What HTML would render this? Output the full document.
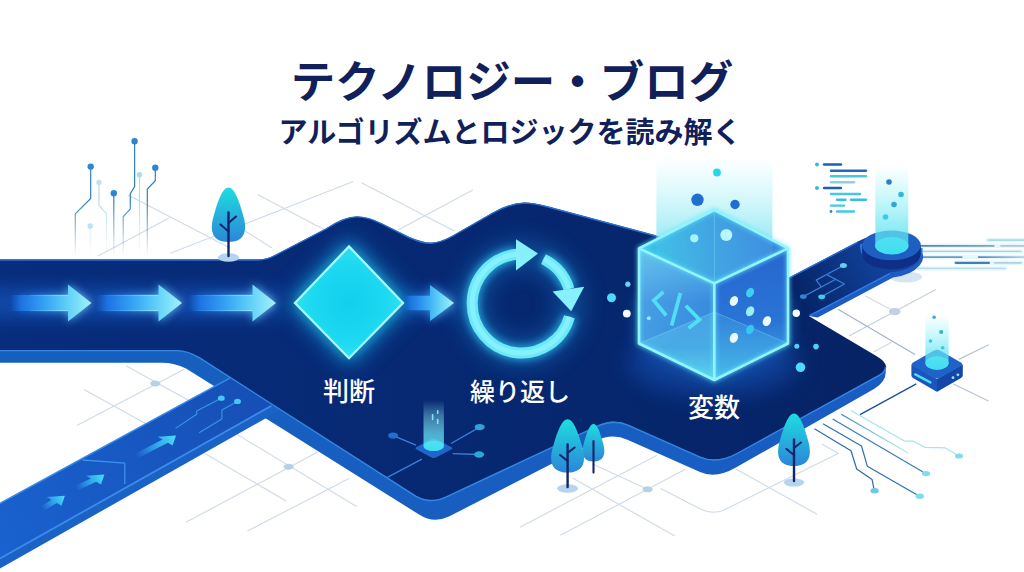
<!DOCTYPE html>
<html lang="ja">
<head>
<meta charset="utf-8">
<title>テクノロジー・ブログ</title>
<style>
html,body{margin:0;padding:0;background:#fff;}
body{width:1024px;height:572px;overflow:hidden;font-family:"Liberation Sans",sans-serif;}
svg{display:block;}
</style>
</head>
<body>
<svg width="1024" height="572" viewBox="0 0 1024 572">
<defs>
  <linearGradient id="gSurf" x1="0" y1="0" x2="1024" y2="0" gradientUnits="userSpaceOnUse">
    <stop offset="0" stop-color="#082d7d"/>
    <stop offset="0.4" stop-color="#072973"/>
    <stop offset="0.65" stop-color="#06266c"/>
    <stop offset="1" stop-color="#062161"/>
  </linearGradient>
  <linearGradient id="gSide" x1="0" y1="0" x2="1024" y2="0" gradientUnits="userSpaceOnUse">
    <stop offset="0" stop-color="#1560bf"/>
    <stop offset="1" stop-color="#1a5cc2"/>
  </linearGradient>
  <filter id="blur2" x="-20%" y="-20%" width="140%" height="140%"><feGaussianBlur stdDeviation="2"/></filter>
  <filter id="blur4" x="-30%" y="-30%" width="160%" height="160%"><feGaussianBlur stdDeviation="4"/></filter>
  <filter id="blur8" x="-40%" y="-40%" width="180%" height="180%"><feGaussianBlur stdDeviation="8"/></filter>

  <linearGradient id="gRoad2" x1="0" y1="560" x2="260" y2="400" gradientUnits="userSpaceOnUse">
    <stop offset="0" stop-color="#1a62cf"/>
    <stop offset="1" stop-color="#164fb6"/>
  </linearGradient>
  <linearGradient id="gArrow" x1="0" y1="0" x2="1" y2="0">
    <stop offset="0" stop-color="#1a6fe0" stop-opacity="0"/>
    <stop offset="0.14" stop-color="#1f7aea" stop-opacity="0.8"/>
    <stop offset="0.45" stop-color="#38a6f5" stop-opacity="1"/>
    <stop offset="0.72" stop-color="#62d2f8" stop-opacity="1"/>
    <stop offset="1" stop-color="#a4f1fb" stop-opacity="1"/>
  </linearGradient>
  <linearGradient id="gArrowS" x1="0" y1="0" x2="1" y2="0">
    <stop offset="0" stop-color="#3fb0ff" stop-opacity="0"/>
    <stop offset="0.5" stop-color="#35b8f5" stop-opacity="0.8"/>
    <stop offset="1" stop-color="#45dcf5" stop-opacity="1"/>
  </linearGradient>
  <radialGradient id="gDia" cx="0.5" cy="0.5" r="0.55">
    <stop offset="0" stop-color="#12d0ec"/>
    <stop offset="0.6" stop-color="#1cd8f0"/>
    <stop offset="1" stop-color="#34e2f5"/>
  </radialGradient>
  <linearGradient id="gBeam" x1="0" y1="0" x2="0" y2="1">
    <stop offset="0" stop-color="#9af2f8" stop-opacity="0"/>
    <stop offset="0.3" stop-color="#8df0f7" stop-opacity="0.38"/>
    <stop offset="0.65" stop-color="#6ee6f4" stop-opacity="0.7"/>
    <stop offset="1" stop-color="#45dcf0" stop-opacity="0.88"/>
  </linearGradient>
  <linearGradient id="gBeamC" x1="0" y1="0" x2="0" y2="1">
    <stop offset="0" stop-color="#9af2f8" stop-opacity="0"/>
    <stop offset="0.3" stop-color="#95eef6" stop-opacity="0.3"/>
    <stop offset="0.7" stop-color="#74e2f2" stop-opacity="0.6"/>
    <stop offset="1" stop-color="#58d8f0" stop-opacity="0.75"/>
  </linearGradient>
  <linearGradient id="gTree" x1="0" y1="0" x2="0" y2="1">
    <stop offset="0" stop-color="#1fdde0"/>
    <stop offset="1" stop-color="#2b86d8"/>
  </linearGradient>
  <linearGradient id="gCubeTop" x1="645" y1="255" x2="780" y2="235" gradientUnits="userSpaceOnUse">
    <stop offset="0" stop-color="#38c2e4"/>
    <stop offset="0.45" stop-color="#3aa0e2"/>
    <stop offset="1" stop-color="#3680dc"/>
  </linearGradient>
  <linearGradient id="gCubeL" x1="0" y1="250" x2="0" y2="380" gradientUnits="userSpaceOnUse">
    <stop offset="0" stop-color="#49a8e6"/>
    <stop offset="0.4" stop-color="#3788de"/>
    <stop offset="0.75" stop-color="#3a98e2"/>
    <stop offset="1" stop-color="#4fd0ee"/>
  </linearGradient>
  <linearGradient id="gCubeR" x1="0" y1="250" x2="0" y2="380" gradientUnits="userSpaceOnUse">
    <stop offset="0" stop-color="#2766cf"/>
    <stop offset="0.55" stop-color="#2a74d6"/>
    <stop offset="1" stop-color="#3fb4e6"/>
  </linearGradient>
  <linearGradient id="gFadeDown" x1="0" y1="140" x2="0" y2="252" gradientUnits="userSpaceOnUse">
    <stop offset="0" stop-color="#fff" stop-opacity="0"/>
    <stop offset="0.75" stop-color="#fff" stop-opacity="0"/>
    <stop offset="1" stop-color="#fff" stop-opacity="1"/>
  </linearGradient>
  <linearGradient id="gSpeed" x1="920" y1="0" x2="1024" y2="0" gradientUnits="userSpaceOnUse">
    <stop offset="0" stop-color="#6f9bd0"/>
    <stop offset="1" stop-color="#bfe4f2" stop-opacity="0.3"/>
  </linearGradient>
  <clipPath id="clipTop"><path d="M-10 200 L-10 300 L270 300 L270 260 L660 260 L790 300 L930 262 L930 200 Z"/></clipPath>
  <linearGradient id="gFadeTL" x1="0" y1="200" x2="0" y2="256" gradientUnits="userSpaceOnUse">
    <stop offset="0" stop-color="#fff"/><stop offset="1" stop-color="#000"/>
  </linearGradient>
  <mask id="mFadeTL" maskUnits="userSpaceOnUse" x="60" y="130" width="120" height="140"><rect x="60" y="130" width="120" height="140" fill="url(#gFadeTL)"/></mask>
  <linearGradient id="gTr" x1="841" y1="414" x2="908" y2="453" gradientUnits="userSpaceOnUse">
    <stop offset="0" stop-color="#3a7ab8"/><stop offset="0.5" stop-color="#7fc8dc"/><stop offset="1" stop-color="#b8ecd8"/>
  </linearGradient>
  <linearGradient id="gHL1" x1="20" y1="0" x2="68" y2="0" gradientUnits="userSpaceOnUse"><stop offset="0" stop-color="#bff6ff" stop-opacity="0"/><stop offset="1" stop-color="#c8f8ff" stop-opacity="1"/></linearGradient>
  <linearGradient id="gHL2" x1="100" y1="0" x2="158" y2="0" gradientUnits="userSpaceOnUse"><stop offset="0" stop-color="#bff6ff" stop-opacity="0"/><stop offset="1" stop-color="#c8f8ff" stop-opacity="1"/></linearGradient>
  <linearGradient id="gHL3" x1="192" y1="0" x2="252" y2="0" gradientUnits="userSpaceOnUse"><stop offset="0" stop-color="#bff6ff" stop-opacity="0"/><stop offset="1" stop-color="#c8f8ff" stop-opacity="1"/></linearGradient>
  <filter id="blur12" x="-40%" y="-40%" width="180%" height="180%"><feGaussianBlur stdDeviation="12"/></filter>
  <clipPath id="clipPlat"><use href="#plat"/></clipPath>
  <linearGradient id="gArmOv" x1="800" y1="300" x2="885" y2="255" gradientUnits="userSpaceOnUse"><stop offset="0" stop-color="#1f66d8" stop-opacity="0"/><stop offset="1" stop-color="#1f66d8" stop-opacity="0.5"/></linearGradient>
  <linearGradient id="gSheen" x1="639" y1="250" x2="700" y2="320" gradientUnits="userSpaceOnUse"><stop offset="0" stop-color="#8feaf8" stop-opacity="0.4"/><stop offset="1" stop-color="#8feaf8" stop-opacity="0"/></linearGradient>
  <linearGradient id="gSpeedA" x1="918" y1="0" x2="994" y2="0" gradientUnits="userSpaceOnUse"><stop offset="0" stop-color="#4f84b6"/><stop offset="1" stop-color="#7fa6c8"/></linearGradient>
  <linearGradient id="gSpeedB" x1="978" y1="0" x2="1024" y2="0" gradientUnits="userSpaceOnUse"><stop offset="0" stop-color="#5a88b8"/><stop offset="1" stop-color="#b8d0e2"/></linearGradient>
  <linearGradient id="gA1" x1="135.4" y1="456.5" x2="176.0" y2="435.6" gradientUnits="userSpaceOnUse"><stop offset="0" stop-color="#3fb0ff" stop-opacity="0"/><stop offset="0.5" stop-color="#35b8f5" stop-opacity="0.8"/><stop offset="1" stop-color="#4fe0f8" stop-opacity="1"/></linearGradient>
  <linearGradient id="gA2" x1="75.8" y1="488.3" x2="104.4" y2="474.5" gradientUnits="userSpaceOnUse"><stop offset="0" stop-color="#3fb0ff" stop-opacity="0"/><stop offset="0.5" stop-color="#35b8f5" stop-opacity="0.8"/><stop offset="1" stop-color="#4fe0f8" stop-opacity="1"/></linearGradient>
  <linearGradient id="gA3" x1="42.1" y1="508.5" x2="64.9" y2="495.8" gradientUnits="userSpaceOnUse"><stop offset="0" stop-color="#3fb0ff" stop-opacity="0"/><stop offset="0.5" stop-color="#35b8f5" stop-opacity="0.8"/><stop offset="1" stop-color="#4fe0f8" stop-opacity="1"/></linearGradient>
  <path id="plat" d="M-10 259.5 L258 259.5 Q267 259.5 276 254.5 L326 228.5 Q344 216.4 357 216.4 Q368 216.4 382 223.5 L409 237 Q423 243 431 242.8 Q440 242.5 452 236 L493 212.5 Q510 203 524 202.6 Q534 202.6 548 206.5 L656 235.5 L740 258 L770 285 L790 277 L858 241.6 Q868 236 880 234.5 Q905 232 918 244 Q925 254 918 262 Q908 271 890 272.2 L808.8 316 L875.5 355.4 Q894.4 366.4 880 374.3 L738 452.4 Q716.9 464 700 456.5 L629 425 Q613.4 418 598 425.3 L447 496 Q430 504 416 495.8 L200 357.6 Q188.2 350 176 350 L-10 350 Z"/>
  <path id="outer" d="M-10 300 L-10 362.8 L162 362.8 Q174.4 362.8 186 368.5 L419 514.5 Q433.6 523.8 449 516.5 L597 440.6 Q611.9 432.9 628 440.1 L700 472 Q715.8 479 735 468.1 L874 388.9 Q885.8 382 885.8 372 L885 366 L870 358 L700 400 L300 330 Z"/>
  <path id="armside" d="M808.8 316 L817.7 317.6 L893 277.5 Q912 275 920 265 Q925 259 922 252 L900 250 L808.8 300 Z"/>
</defs>
<rect width="1024" height="572" fill="#ffffff"/>

<!-- GRID -->
<g id="grid" fill="none" stroke="#cfdae8" stroke-width="1.1">
  <!-- top-left -->
  <path d="M98 256 L169 218"/>
  <path d="M128 195 L230 248"/>
  <path d="M170.4 253.2 L353.3 181.5"/>
  <path d="M257.6 194.5 L324.4 229.8"/>
  <path d="M361.5 182.7 L454.3 230.9"/>
  <path d="M398.6 229.8 L472.8 190"/>
  <path d="M242 229 L272 248"/>
  <!-- bottom-left -->
  <path d="M76.9 425.6 L184.2 369.3"/>
  <path d="M84 389.4 L150 426"/>
  <path d="M126.1 365.8 L215 415"/>
  <path d="M185.9 522.3 L317.8 452"/>
  <path d="M247.5 531.1 L349.4 478.3"/>
  <path d="M205.3 453.7 L286 501"/>
  <path d="M236.9 434.4 L356.5 506.5"/>
  <!-- bottom-middle -->
  <path d="M520 527.2 L657 455.2"/>
  <path d="M560.4 535.3 L685.3 469.2"/>
  <path d="M572.7 478 L674.7 536"/>
  <path d="M592 463.8 L647.6 489.3"/>
  <path d="M660.6 488.6 L700 508.8 Q712 515 724 510 L838.2 453.4 L822 444"/>
  <path d="M736.2 469.2 L817.1 514.2"/>
  <!-- right -->
  <path d="M849 336.1 L935.9 289.6" stroke="#c3cfde"/>
  <path d="M864.9 295.7 L894.7 311.6"/>
  <path d="M838 309.2 L915 354.5" stroke="#a3b3ca" stroke-width="1.2"/>
  <path d="M873.4 352 L891.8 342.2"/>
</g>
<g fill="#b9cfe6">
  <ellipse cx="155.3" cy="383.4" rx="5" ry="3"/>
  <ellipse cx="288.6" cy="466.7" rx="5" ry="3"/>
  <ellipse cx="647.6" cy="489.3" rx="5" ry="3"/>
  <ellipse cx="894.7" cy="311.6" rx="5.8" ry="3.6" fill="#c3cfe4"/>
</g>

<!-- PRE-PLATFORM DECOR -->
<ellipse cx="906" cy="277" rx="16" ry="5.5" fill="#d3e2f2" opacity="0.9"/>
<g id="speed" fill="none" stroke-linecap="round">
  <g stroke="#c4f0f8" stroke-width="4.5" opacity="0.45">
    <path d="M921 245.8 L1024 245.8 M921 251.4 L1021 251.4 M921 257.1 L1024 257.1 M956 262.8 L1021 262.8 M918 268.4 L1005 268.4 M988 240.1 L1024 240.1"/>
  </g>
  <g stroke-width="1.7">
    <path d="M988.4 240.1 L1024 240.1" stroke="#a8dce4"/>
    <path d="M918 245.8 L993.8 245.8" stroke="url(#gSpeedA)"/>
    <path d="M1001 245.8 L1024 245.8" stroke="#9fbcd2" opacity="0.8"/>
    <path d="M918 251.4 L1021 251.4" stroke="#b0cce0" stroke-width="1.2"/>
    <path d="M918 257.1 L961.8 257.1" stroke="#6f98c2"/>
    <path d="M978.7 257.1 L1024 257.1" stroke="url(#gSpeedB)"/>
    <path d="M955.7 262.8 L989 262.8" stroke="#4a7cb2" stroke-width="2.2"/>
    <path d="M994.5 262.8 L1021 262.8" stroke="#a8c4da" opacity="0.8"/>
    <path d="M918 268.4 L1005 268.4" stroke="#bcd6e6" stroke-width="1.2"/>
  </g>
</g>
<g id="traces-tl" fill="none" stroke-width="1.2" mask="url(#mFadeTL)">
  <path d="M90.7 166.6 L90.7 198.4 L75.3 213.8 L75.3 256" stroke="#2f7fc4"/>
  <path d="M99 182.4 L99 205.5 L106.5 213.8 L106.5 256" stroke="#b5dcee"/>
  <path d="M113.8 193.2 L113.8 256" stroke="#2f7fc4"/>
  <path d="M134.6 141.3 L134.6 186.6 L130.3 193.7 L130.3 209 L123.2 216.8 L123.2 256" stroke="#2f7fc4"/>
  <path d="M139.5 174.8 L139.5 256" stroke="#b5dcee"/>
  <path d="M155.3 167.8 L155.3 180.7 L147.3 189 L147.3 256" stroke="#2f7fc4"/>
  <path d="M90.2 226 L90.2 256" stroke="#b5dcee"/>
</g>
<g id="traces-tl-dots">
  <circle cx="90.7" cy="166.6" r="3.2" fill="#2f86d0"/>
  <circle cx="99" cy="182.4" r="2.7" fill="#bfe2f0"/>
  <circle cx="113.8" cy="193.2" r="3.2" fill="#2f86d0"/>
  <circle cx="134.6" cy="141.3" r="3.2" fill="#2f86d0"/>
  <circle cx="139.5" cy="174.8" r="2.7" fill="#a8dcf0"/>
  <circle cx="155.3" cy="167.8" r="3.2" fill="#2f86d0"/>
  <circle cx="90.2" cy="226" r="2.7" fill="#bfe2f0"/>
</g>
<g id="traces-br" fill="none" stroke-width="1.2" stroke-linejoin="round">
  <path d="M851 410.4 L904.8 441.2 L913.5 441.2 L925 447.3 L944.8 447.8 L956.3 454.5" stroke="#a5e4ee"/>
  <path d="M841.3 414.2 L907.7 452.7" stroke="url(#gTr)"/>
  <path d="M832.7 419 L923 472" stroke="#3a7ab8"/>
  <path d="M823 423.8 L861.5 446 L867.3 466.2 L917.3 495" stroke="#2f6fb0"/>
  <path d="M814.4 428.7 L851 450.8 L856.7 469 L872.1 479.6 L874 489.2" stroke="#2f6aa8"/>
</g>
<g id="traces-br-dots">
  <ellipse cx="959" cy="456" rx="4" ry="2.6" fill="#7fdcee"/>
  <ellipse cx="926" cy="473.6" rx="4.2" ry="2.7" fill="#7fdcee"/>
  <ellipse cx="919.8" cy="496.3" rx="4.2" ry="2.7" fill="#7fdcee"/>
  <ellipse cx="874.6" cy="490.8" rx="4.2" ry="2.7" fill="#6fc8e4"/>
</g>
<!-- PLATFORM SIDE -->
<use href="#outer" fill="url(#gSide)"/>
<use href="#armside" fill="#1d5cc2"/>
<!-- LOWER ROAD -->
<g id="road2">
  <path d="M-5 561.3 L271.5 405.7 L290 395.4 L290 404.6 L-5 571.2 Z" fill="#1a62c6"/>
  <path d="M-5 506 L229.8 378.05 L290 410 L271.5 405.7 L-5 561.3 Z" fill="url(#gRoad2)"/>
  <path d="M-5 506 L229.8 378.05" stroke="#348ae8" stroke-width="1.5" fill="none"/>
  <path d="M-5 561.3 L271.5 405.7" stroke="#3a8eea" stroke-width="1.8" fill="none"/>
  <path d="M82.7 460 L124.8 463 L124.8 484" stroke="#3a90ea" stroke-width="1.3" fill="none"/>
  <g stroke="#3a96e8" stroke-width="1.1" fill="none" stroke-linejoin="round">
    <path d="M175.5 428.4 L196.7 414.3 L196.7 411.1 L221.1 398.2"/><path d="M199.1 432.7 L221.9 419 L221.9 410 L237.3 401.4"/>
  </g>
  <ellipse cx="221.3" cy="398.2" rx="3.4" ry="2.6" fill="#45c8f5"/><ellipse cx="237.5" cy="401.4" rx="3.4" ry="2.6" fill="#45c8f5"/>
  <g id="sarrows">
    <path d="M138.1 458.1 L167.9 442.8 L172.6 445.6 L176.0 435.6 L157.8 436.8 L162.5 439.6 L132.7 454.9 Z" fill="url(#gA1)"/>
    <path d="M78.5 489.9 L96.2 481.7 L101.0 484.5 L104.4 474.5 L86.1 475.7 L90.9 478.5 L73.1 486.7 Z" fill="url(#gA2)"/>
    <path d="M44.8 510.1 L56.8 503.0 L61.5 505.8 L64.9 495.8 L46.7 497.1 L51.4 499.9 L39.4 506.9 Z" fill="url(#gA3)"/>
  </g>
</g>
<!-- PLATFORM TOP -->
<use href="#plat" fill="url(#gSurf)"/>
<path d="M-10 260 L258 260 Q267 260 276 255 L326 229 Q344 216.9 357 216.9 Q368 216.9 382 224 L409 237.5 Q423 243.5 431 243.3 Q440 243 452 236.5 L493 213 Q510 203.5 524 203.1 Q534 203.1 548 207 L656 236 M790 277.6 L858 242.2" fill="none" stroke="#2a6fce" stroke-width="1.4"/>
<path d="M-10 350.6 L176 350.6 Q188.2 350.6 200 358.2 L416 496.4 Q430 504.6 447 496.6 L598 425.9 Q613.4 418.6 629 425.6 L700 457.1 Q716.9 464.6 738 453 L880 374.9 Q885.5 371.5 885.5 367" fill="none" stroke="#3686e0" stroke-width="1.4"/>

<!-- SURFACE GLOWS -->
<g clip-path="url(#clipPlat)">
  <rect x="-20" y="287" width="300" height="32" fill="#1c6ae0" opacity="0.42" filter="url(#blur8)"/>
  <rect x="400" y="290" width="60" height="26" fill="#1c6ae0" opacity="0.4" filter="url(#blur8)"/>
  <path d="M284 303 L349 235 L414 303 L349 369 Z" fill="#1a9ae8" opacity="0.45" filter="url(#blur12)"/>
  <circle cx="521.7" cy="303.5" r="49.5" fill="none" stroke="#1a9ae8" stroke-width="22" opacity="0.4" filter="url(#blur12)"/>
</g>
<g clip-path="url(#clipPlat)"><path d="M790 270 L870 230 L930 240 L930 280 L810 320 Z" fill="url(#gArmOv)"/></g>
<!-- MAIN ARROWS -->
<g id="arrows">
  <g filter="url(#blur4)" opacity="0.75">
    <path d="M14 294.5 L68 294.5 L68 284 L91.5 303 L68 322 L68 311.5 L14 311.5 Z" fill="url(#gArrow)"/>
    <path d="M98 294.5 L158.5 294.5 L158.5 284 L182 303 L158.5 322 L158.5 311.5 L98 311.5 Z" fill="url(#gArrow)"/>
    <path d="M190 294.5 L252.5 294.5 L252.5 284 L276 303 L252.5 322 L252.5 311.5 L190 311.5 Z" fill="url(#gArrow)"/>
    <path d="M408 295.5 L430 295.5 L430 284.5 L454 303 L430 321.5 L430 310.5 L408 310.5 Z" fill="url(#gArrow)"/>
  </g>
  <path d="M10 295 L68 295 L68 284.5 L91.5 303 L68 321.5 L68 311 L10 311 Z" fill="url(#gArrow)"/>
  <path d="M96 295 L158.5 295 L158.5 284.5 L182 303 L158.5 321.5 L158.5 311 L96 311 Z" fill="url(#gArrow)"/>
  <path d="M188 295 L252.5 295 L252.5 284.5 L276 303 L252.5 321.5 L252.5 311 L188 311 Z" fill="url(#gArrow)"/>
  <path d="M404 295.8 L430 295.8 L430 285 L454 303 L430 321 L430 310.2 L404 310.2 Z" fill="url(#gArrow)"/>
</g>

<g stroke-width="1" fill="none" opacity="0.55">
  <path d="M30 295.3 L68 295.3 M30 310.7 L68 310.7" stroke="url(#gHL1)"/>
  <path d="M104 295.3 L158.5 295.3 M104 310.7 L158.5 310.7" stroke="url(#gHL2)"/>
  <path d="M196 295.3 L252.5 295.3 M196 310.7 L252.5 310.7" stroke="url(#gHL3)"/>
</g>
<!-- DIAMOND -->
<g id="diamond">
  <path d="M294 303 L349 245.5 L404 303 L349 359 Z" fill="#1fd4f2" filter="url(#blur8)" opacity="0.85"/>
  <path d="M295 303 L349 246.5 L403 303 L349 358.2 Z" fill="url(#gDia)" stroke="#a6faff" stroke-width="2.3" stroke-linejoin="miter"/>
</g>

<!-- LOOP -->
<g id="loop">
  <g filter="url(#blur4)" opacity="0.7" fill="none" stroke="#35d0ff" stroke-width="14">
    <path d="M569.4 316.7 A49.5 49.5 0 1 1 516.5 254.3"/>
    <path d="M543.5 259.1 A49.5 49.5 0 0 1 569 289"/>
  </g>
  <g fill="none" stroke="#6ae9f7" stroke-width="11">
    <path d="M569.4 316.7 A49.5 49.5 0 1 1 516.5 254.3"/>
    <path d="M543.5 259.1 A49.5 49.5 0 0 1 569 289"/>
  </g>
  <g fill="none" stroke="#9af5ff" stroke-width="5" opacity="0.6">
    <path d="M569.4 316.7 A49.5 49.5 0 1 1 516.5 254.3"/>
    <path d="M543.5 259.1 A49.5 49.5 0 0 1 569 289"/>
  </g>
  <path d="M516 239.2 L538 253.6 L516 270.6 Z" fill="#86f0fc"/>
  <path d="M552.6 291.4 L584.2 286.8 L571.2 311.2 Z" fill="#86f0fc"/>
</g>

<!-- CUBE -->
<g id="cube">
  <!-- glow around cube on platform -->
  <path d="M639 300 L714.3 262 L788 300 L788 343.5 L714.3 380 L639 343.5 Z" fill="#2aa8f0" filter="url(#blur8)" opacity="0.6"/>
  <ellipse cx="714" cy="362" rx="85" ry="32" fill="#1a6ae0" opacity="0.4" filter="url(#blur12)" clip-path="url(#clipPlat)"/>
  <!-- beam -->
  <rect x="656.4" y="158" width="116" height="102" fill="url(#gBeamC)"/>
  <!-- faces -->
  <path d="M639 248.4 L714.3 283.4 L714.3 380 L639 343.5 Z" fill="url(#gCubeL)"/>
  <path d="M714.3 283.4 L788 248.4 L788 343.5 L714.3 380 Z" fill="url(#gCubeR)"/>
  <path d="M714.3 210 L788 248.4 L714.3 283.4 L639 248.4 Z" fill="url(#gCubeTop)"/>
  <path d="M656.4 239.5 L714.3 210 L772.4 240.3 L772.4 255.8 L714.3 283.4 L656.4 256.5 Z" fill="#7fe8f5" opacity="0.12"/>
  <!-- floor seen through glass -->
  <path d="M639 343.5 L714.3 312 L714.3 380 Z" fill="#6fe0f2" opacity="0.28"/>
  <path d="M788 343.5 L714.3 312 L714.3 380 Z" fill="#5fd0f0" opacity="0.22"/>
  <!-- upper-left sheen -->
  <path d="M639 248.4 L714.3 283.4 L714.3 380 L639 343.5 Z" fill="url(#gSheen)"/>
  <!-- inner back edges -->
  <g stroke="#8fe4f8" stroke-width="1" opacity="0.35" fill="none">
    <path d="M714.3 210 L714.3 312 M639 343.5 L714.3 312 L788 343.5"/>
  </g>
  <!-- edges -->
  <g fill="none" stroke="#5fe8fa" stroke-width="4" stroke-linejoin="round" filter="url(#blur2)" opacity="0.7">
    <path d="M714.3 210 L788 248.4 L788 343.5 L714.3 380 L639 343.5 L639 248.4 Z"/>
    <path d="M639 248.4 L714.3 283.4 L788 248.4 M714.3 283.4 L714.3 380"/>
  </g>
  <g fill="none" stroke="#94f3fc" stroke-width="2.6" stroke-linejoin="round">
    <path d="M714.3 210 L788 248.4 L788 343.5 L714.3 380 L639 343.5 L639 248.4 Z"/>
    <path d="M639 248.4 L714.3 283.4 L788 248.4 M714.3 283.4 L714.3 380"/>
  </g>
  <!-- code icon on left face -->
  <g fill="none" stroke="#52dff6" stroke-width="3.7" stroke-linecap="butt" stroke-linejoin="miter">
    <path d="M663.4 291.8 L653.8 300.4 L666.2 315.5"/>
    <path d="M680.4 293 L671.6 325.5"/>
    <path d="M685.8 305.8 L699.5 319.6 L688.6 328.1"/>
  </g>
  <!-- dots on right face -->
  <ellipse cx="733.9" cy="301" rx="3.9" ry="5.2" fill="#eafcff" transform="rotate(28 733.9 301)"/>
  <ellipse cx="750.1" cy="292.6" rx="3.7" ry="5" fill="#3fd0f0" transform="rotate(28 750.1 292.6)"/>
  <ellipse cx="750.1" cy="311.3" rx="3.9" ry="5.2" fill="#9aeefa" transform="rotate(28 750.1 311.3)"/>
  <ellipse cx="766.9" cy="321.1" rx="3.9" ry="5.2" fill="#eafcff" transform="rotate(28 766.9 321.1)"/>
  <ellipse cx="750.1" cy="329.5" rx="3.7" ry="5" fill="#35c8ee" transform="rotate(28 750.1 329.5)"/>
  <ellipse cx="733.9" cy="337.9" rx="3.9" ry="5.2" fill="#eafcff" transform="rotate(28 733.9 337.9)"/>
  <!-- particles above / top face -->
  <circle cx="717" cy="172.5" r="3.9" fill="#27d6ea"/>
  <circle cx="697.5" cy="199.8" r="6.2" fill="#1f6fd2"/>
  <circle cx="735" cy="204.5" r="4.7" fill="#1f6fd2"/>
  <circle cx="694.3" cy="238.3" r="4.1" fill="#a5f2fb"/>
  <circle cx="726.3" cy="235" r="6" fill="#b8f6fc"/>
  <!-- particles around -->
  <circle cx="627.8" cy="284.2" r="2.6" fill="#5fd8f5"/>
  <circle cx="611.5" cy="297.7" r="4.5" fill="#4fd8f8"/>
  <circle cx="626.8" cy="313.6" r="3.9" fill="#f2fcff"/>
  <circle cx="648.8" cy="318.3" r="2" fill="#8feafa"/>
  <circle cx="796.3" cy="313.3" r="3.7" fill="#f2fcff"/>
  <circle cx="796.8" cy="346.3" r="2.5" fill="#4fd0f5"/>
  <circle cx="816" cy="346.6" r="2.8" fill="#4fd0f5"/>
  <circle cx="800.5" cy="367.3" r="4.8" fill="#4fdcf8"/>
</g>
<!-- PEDESTAL -->
<g id="pedestal">
  <!-- base crescent (arm top rim) -->
  <path d="M860 247 Q861 266 892 268.5 Q921 268 922.5 252 L922.5 248 L860 244 Z" fill="#2b74dd"/>
  <!-- disk -->
  <path d="M862.2 245.4 L862.2 254.5 A29.3 14.9 0 0 0 920.8 254.5 L920.8 245.4 Z" fill="#0f2f86"/>
  <ellipse cx="891.5" cy="245.4" rx="29.3" ry="14.9" fill="#1f5fc2"/>
  <ellipse cx="891.8" cy="245.8" rx="16.8" ry="8.7" fill="#22e0f0"/>
  <!-- beam -->
  <path d="M875.3 165 L908.3 165 L908.3 245.8 A16.5 8.5 0 0 1 875.3 245.8 Z" fill="url(#gBeam)"/>
  <circle cx="889" cy="182" r="2.8" fill="#2a7fc8"/>
  <circle cx="901" cy="194.5" r="2.8" fill="#2fb8d8"/>
  <circle cx="894" cy="204.5" r="2.8" fill="#2fa8d8"/>
  <circle cx="885.5" cy="217" r="2.8" fill="#35d0e8"/>
</g>

<!-- ARM CIRCUIT -->
<path d="M809.5 315.7 L890 273.5" stroke="#2f7fe6" stroke-width="1.4" fill="none"/>
<g id="armc" fill="none" stroke="#3a7fd4" stroke-width="1.2" stroke-linejoin="round">
  <path d="M843.4 265.5 L816.2 280.1 L821.2 286.9"/>
  <path d="M827.2 274.9 L844.5 284 L821.7 296.6"/>
  <path d="M803.3 296.6 L835.8 279.3"/>
</g>
<ellipse cx="843.4" cy="265.5" rx="3.5" ry="2.5" fill="#5fd0f2"/>
<ellipse cx="803.3" cy="296.6" rx="3.4" ry="2.3" fill="#3a7fd0"/>
<ellipse cx="821.7" cy="296.8" rx="3.5" ry="2.4" fill="#3fc8f0"/>

<!-- CODE LINES -->
<g id="code" fill="none" stroke-width="2.4" stroke-linecap="round">
  <circle cx="817" cy="164.5" r="2" fill="#3fb8d8" stroke="none"/>
  <path d="M824 164.5 L841 164.5" stroke="#1f5fb0"/>
  <path d="M831 170.8 L866 170.8" stroke="#2468b8"/>
  <path d="M831 176.3 L866 176.3" stroke="#45c8e0"/>
  <path d="M831 182.2 L854 182.2" stroke="#8fd0e0"/>
  <circle cx="817" cy="188" r="2" fill="#3fb8d8" stroke="none"/>
  <path d="M824 188 L841 188" stroke="#1f5fb0"/>
  <path d="M831 194 L860 194" stroke="#45c8e0"/>
  <path d="M837 199.8 L845.5 199.8 M851 199.8 L866 199.8" stroke="#35c0e0"/>
  <path d="M831 205.6 L844 205.6" stroke="#45c8e0"/>
  <circle cx="831" cy="211.5" r="1.4" fill="#2a8fc0" stroke="none"/>
  <path d="M837 211.5 L854 211.5" stroke="#45c8e0"/>
</g>

<!-- DEVICE BOX -->
<g id="box">
  <g stroke="#1f4f9a" stroke-width="1.4" fill="none"><path d="M860 414.6 L916.3 383.8"/></g>
  <g stroke="#b5c3d6" stroke-width="1.2" fill="none"><path d="M953 383.8 L988.5 401 M959 359.4 L988.5 344.7"/></g>
  <path d="M911.4 364.2 L937 379 L937 391.5 Q937 392 935.5 391 L913 378 Q911.4 377 911.4 375.3 Z" fill="#1a55bd"/>
  <path d="M937 379 L962.8 364.2 L962.8 375.3 Q962.8 377 961 378 L938.5 391 Q937 392 937 391.5 Z" fill="#1448a8"/>
  <path d="M934 350.6 Q937 349 940 350.6 L960.5 362.3 Q963.8 364.2 960.5 366.1 L940 377.8 Q937 379.4 934 377.8 L913.5 366.1 Q910.2 364.2 913.5 362.3 Z" fill="#1f62c8"/>
  <path d="M915.2 374.4 L930.4 382.4" stroke="#4fd8f5" stroke-width="2.4" fill="none" stroke-linecap="round"/>
  <circle cx="953" cy="377.7" r="1.4" fill="#9fdcf8"/><circle cx="957.9" cy="374.8" r="1.4" fill="#9fdcf8"/>
  <ellipse cx="937" cy="363" rx="11.7" ry="6.8" fill="#25dcee"/>
  <path d="M925.4 314 L948.6 314 L948.6 363 A11.6 6.8 0 0 1 925.4 363 Z" fill="url(#gBeam)"/>
  <circle cx="934.1" cy="317.2" r="1.8" fill="#35b0d8"/>
  <circle cx="941.2" cy="332" r="2" fill="#35b0d8"/>
  <circle cx="930.5" cy="341" r="1.8" fill="#35c8e0"/>
  <circle cx="942.7" cy="347.8" r="1.8" fill="#35c8e0"/>
</g>

<!-- CHIP -->
<g id="chip">
  <g stroke="#3a80d8" stroke-width="1.3" fill="none">
    <path d="M393.1 435.6 L416 445.2"/><path d="M451 443.5 L479.7 427.1"/><path d="M452.6 453.7 L479.1 454.5"/><path d="M421.9 459.2 L387.3 477.3"/>
  </g>
  <ellipse cx="393.1" cy="435.6" rx="5" ry="3.2" fill="#1f6fd0"/>
  <ellipse cx="479.7" cy="427.1" rx="5" ry="3.2" fill="#2fa4d8"/>
  <ellipse cx="479.1" cy="454.5" rx="5" ry="3.2" fill="#2fa4d8"/>
  <path d="M414.5 448.2 L433.7 458.5 L453.4 448.2 L453.4 452.6 L433.7 463.4 L414.5 452.6 Z" fill="#0b286f"/>
  <path d="M431.5 439.1 Q433.7 438 435.9 439.1 L451.3 447.1 Q453.6 448.2 451.3 449.4 L435.9 457.5 Q433.7 458.6 431.5 457.5 L416.6 449.4 Q414.3 448.2 416.6 447.1 Z" fill="#1f66cc"/>
  <ellipse cx="433.7" cy="445.9" rx="10.2" ry="5.2" fill="#22dcf0"/>
  <path d="M423.5 400 L443.9 400 L443.9 445.9 A10.2 5.2 0 0 1 423.5 445.9 Z" fill="url(#gBeam)"/>
  <g stroke="#7fe8f8" stroke-width="1.6" stroke-linecap="round"><path d="M432.6 414.8 L432.6 419.5"/><path d="M437.7 410.8 L437.7 413.2"/><path d="M437.7 419.5 L437.7 423.4"/></g>
</g>

<!-- TREES -->
<g id="trees">
<ellipse cx="228.5" cy="257.5" rx="10.6" ry="4.3" fill="#b5d4ee"/>
<path d="M228.5 187.5 C234.2 187.5 238.8 199.5 243.0 214.8 C248.4 232.2 243.6 242.0 228.5 242.0 C213.4 242.0 208.6 232.2 214.0 214.8 C218.2 199.5 222.8 187.5 228.5 187.5 Z" fill="url(#gTree)"/>
<g stroke="#14246b" stroke-width="2.4" fill="none" stroke-linecap="round"><path d="M228.5 212.5 L228.5 256"/><path d="M228.5 231.5 L220.5 224.5" stroke-width="2.1"/><path d="M228.5 223 L236.0 216.5" stroke-width="2.1"/></g>
<path d="M593.5 424.0 C597.2 424.0 600.2 432.2 603.0 442.8 C606.5 454.8 603.4 461.5 593.5 461.5 C583.6 461.5 580.5 454.8 584.0 442.8 C586.8 432.2 589.8 424.0 593.5 424.0 Z" fill="url(#gTree)"/>
<g stroke="#14246b" stroke-width="2.1" fill="none" stroke-linecap="round"><path d="M593.5 441 L593.5 472.6"/></g>
<ellipse cx="567.6" cy="488.5" rx="10.5" ry="4.2" fill="#b5d4ee"/>
<path d="M567.6 419.3 C573.2 419.3 577.8 431.0 582.0 445.9 C587.2 462.9 582.5 472.5 567.6 472.5 C552.7 472.5 548.0 462.9 553.2 445.9 C557.4 431.0 562.0 419.3 567.6 419.3 Z" fill="url(#gTree)"/>
<g stroke="#14246b" stroke-width="2.4" fill="none" stroke-linecap="round"><path d="M567.6 444.5 L567.6 487"/><path d="M567.6 461 L560.1 455" stroke-width="2.1"/><path d="M567.6 453 L574.6 447.5" stroke-width="2.1"/></g>
<ellipse cx="794" cy="482.5" rx="10.2" ry="4.1" fill="#b5d4ee"/>
<path d="M794.0 413.4 C799.4 413.4 803.9 425.0 807.9 439.7 C813.0 456.5 808.4 466.0 794.0 466.0 C779.6 466.0 775.0 456.5 780.1 439.7 C784.1 425.0 788.6 413.4 794.0 413.4 Z" fill="url(#gTree)"/>
<g stroke="#14246b" stroke-width="2.4" fill="none" stroke-linecap="round"><path d="M794 439.5 L794 481"/><path d="M794 455 L786.5 449" stroke-width="2.1"/><path d="M794 448 L801 442.5" stroke-width="2.1"/></g>
</g>
<!-- TEXT -->
<text x="512" y="98" text-anchor="middle" font-family="'Liberation Sans','Noto Sans CJK JP',sans-serif" font-size="44.5" font-weight="700" fill="#111f5a">テクノロジー・ブログ</text>
<text x="510" y="143" text-anchor="middle" font-family="'Liberation Sans','Noto Sans CJK JP',sans-serif" font-size="29" font-weight="700" fill="#111f5a">アルゴリズムとロジックを読み解く</text>
<text x="349" y="401" text-anchor="middle" font-family="'Liberation Sans','Noto Sans CJK JP',sans-serif" font-size="26" font-weight="500" fill="#ffffff">判断</text>
<text x="520" y="401" text-anchor="middle" font-family="'Liberation Sans','Noto Sans CJK JP',sans-serif" font-size="25" font-weight="500" fill="#ffffff">繰り返し</text>
<text x="714" y="417" text-anchor="middle" font-family="'Liberation Sans','Noto Sans CJK JP',sans-serif" font-size="26" font-weight="500" fill="#ffffff">変数</text>
</svg>
</body>
</html>
